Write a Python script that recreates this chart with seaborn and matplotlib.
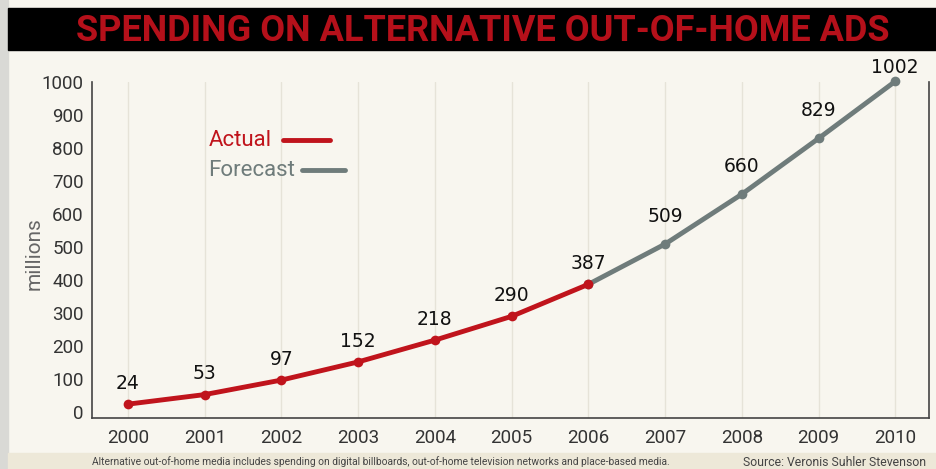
import numpy as np
import pandas as pd
import matplotlib
matplotlib.use('Agg')
import matplotlib.pyplot as plt
import seaborn as sns
from matplotlib import font_manager

# Data
years = [2000, 2001, 2002, 2003, 2004, 2005, 2006, 2007, 2008, 2009, 2010]
actual_years = [2000, 2001, 2002, 2003, 2004, 2005, 2006]
actual_vals = [24, 53, 97, 152, 218, 290, 387]
forecast_years = [2006, 2007, 2008, 2009, 2010]
forecast_vals = [387, 509, 660, 829, 1002]
y_ticks = [0, 100, 200, 300, 400, 500, 600, 700, 800, 900, 1000]

title = 'SPENDING ON ALTERNATIVE OUT-OF-HOME ADS'
note = 'Alternative out-of-home media includes spending on digital billboards, out-of-home television networks and place-based media.'
source = 'Source: Veronis Suhler Stevenson'

red = '#c0141c'
grey = '#6f7c7b'
bg = '#f8f6ef'

sns.set_theme(style='white')
installed = {f.name for f in font_manager.fontManager.ttflist}
narrow = 'Liberation Sans Narrow' if 'Liberation Sans Narrow' in installed else 'Roboto'
plt.rcParams['font.family'] = [narrow, 'DejaVu Sans']

actual_df = pd.DataFrame({'year': actual_years, 'value': actual_vals})
forecast_df = pd.DataFrame({'year': forecast_years, 'value': forecast_vals})

fig = plt.figure(figsize=(9.36, 4.69), dpi=100)
fig.patch.set_facecolor(bg)

# scanned page edge on the left
fig.patches.append(plt.Rectangle((0, 0), 8 / 936, 1, transform=fig.transFigure,
                                 color='#d9d9d5', zorder=0))
# title bar
fig.patches.append(plt.Rectangle((8 / 936, 1 - 50 / 469), 1, 42 / 469,
                                 transform=fig.transFigure, color='black', zorder=0))
fig.text(0.516, 1 - 31 / 469, title, color='#b5101a', fontsize=26, fontweight='bold',
         ha='center', va='center', family=[narrow, 'DejaVu Sans'])

# footnote band
fig.patches.append(plt.Rectangle((8 / 936, 0), 1, 16 / 469,
                                 transform=fig.transFigure, color='#ede8d8', zorder=0))
fig.text(92 / 936, 7 / 469, note, fontsize=7.4, color='#444444', va='center', ha='left')
fig.text(926 / 936, 7 / 469, source, fontsize=8.8, color='#444444', va='center', ha='right')

ax = fig.add_axes([92 / 936, 51 / 469, 837 / 936, 336 / 469])
ax.set_facecolor(bg)

sns.lineplot(data=actual_df, x='year', y='value', color=red, linewidth=3.5,
             marker='o', markersize=7, markeredgewidth=0, ax=ax, zorder=4, clip_on=False)
sns.lineplot(data=forecast_df, x='year', y='value', color=grey, linewidth=3.5,
             marker='o', markersize=7, markeredgewidth=0, ax=ax, zorder=3, clip_on=False)

# value labels: actual ones sit a little lower than the forecast ones
label_x = actual_years + forecast_years[1:]
label_v = actual_vals + forecast_vals[1:]
for i, (x, v) in enumerate(zip(label_x, label_v)):
    if i < len(actual_years):
        off = 15
    elif i < len(label_x) - 1:
        off = 20
    else:
        off = 10
    ax.annotate(str(v), (x, v), xytext=(0, off), textcoords='offset points',
                ha='center', va='center', fontsize=13.5, color='#111111',
                family=['DejaVu Sans'], annotation_clip=False)

ax.set_xlim(1999.53, 2010.44)
ax.set_ylim(-18, 1000)
ax.set_xticks(years)
ax.set_xticklabels([str(y) for y in years], fontsize=13.5, color='#333333')
ax.set_yticks(y_ticks)
ax.set_yticklabels([str(t) for t in y_ticks], fontsize=13.5, color='#333333')
ax.tick_params(length=0, pad=6)
ax.tick_params(axis='x', pad=8)
for yr in years:
    ax.axvline(yr, color='#e6e3d8', linewidth=1, zorder=0)
ax.set_xlabel('')
ax.set_ylabel('millions', fontsize=15, color='#666666')
ax.yaxis.set_label_coords(-0.0575, 0.49)

for side in ['left', 'bottom', 'right']:
    ax.spines[side].set_visible(True)
    ax.spines[side].set_color('#444444')
    ax.spines[side].set_linewidth(1.2)
ax.spines['top'].set_visible(False)

# legend drawn by hand
ax.text(2001.88, 824, 'Actual', color=red, fontsize=16, ha='right', va='center')
ax.plot([2002.02, 2002.63], [824, 824], color=red, linewidth=3.5)
ax.text(2002.18, 733, 'Forecast', color=grey, fontsize=16, ha='right', va='center')
ax.plot([2002.27, 2002.83], [733, 733], color=grey, linewidth=3.5)

fig.savefig('out.png', dpi=100, facecolor=bg)
